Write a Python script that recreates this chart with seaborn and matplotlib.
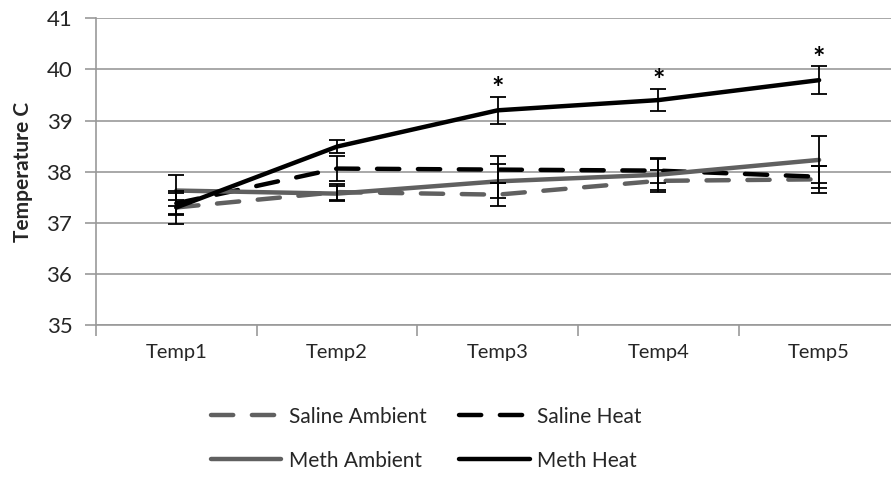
import matplotlib
matplotlib.use("Agg")
import matplotlib.pyplot as plt
from matplotlib.lines import Line2D
import seaborn as sns
import pandas as pd
import numpy as np

# Body temperature by time point and group
timepoints = ["Temp1", "Temp2", "Temp3", "Temp4", "Temp5"]
saline_ambient = [37.30, 37.60, 37.55, 37.82, 37.85]
saline_heat = [37.38, 38.06, 38.04, 38.02, 37.90]
meth_ambient = [37.63, 37.57, 37.81, 37.94, 38.23]
meth_heat = [37.30, 38.49, 39.20, 39.40, 39.79]

saline_ambient_err = [0.15, 0.16, 0.22, 0.22, 0.26]
saline_heat_err = [0.20, 0.25, 0.27, 0.24, 0.22]
meth_ambient_err = [0.30, 0.14, 0.33, 0.30, 0.46]
meth_heat_err = [0.33, 0.13, 0.27, 0.22, 0.27]

significant = [False, False, True, True, True]

sns.set_theme(style="white")
plt.rcParams["font.family"] = ["Lato", "DejaVu Sans"]

series = [
    ("Saline Ambient", saline_ambient, saline_ambient_err, "#606060", True),
    ("Saline Heat", saline_heat, saline_heat_err, "#000000", True),
    ("Meth Ambient", meth_ambient, meth_ambient_err, "#606060", False),
    ("Meth Heat", meth_heat, meth_heat_err, "#000000", False),
]

fig = plt.figure(figsize=(8.91, 4.79), dpi=100)
ax = fig.add_axes([0.1077, 0.3215, 0.9018, 0.6403])

x = np.arange(len(timepoints))
lw = 3.2
dash_pattern = (5.0, 4.2)

handles = {}
for name, vals, errs, color, dashed in series:
    df = pd.DataFrame({"pos": x, "temp": vals})
    sns.lineplot(data=df, x="pos", y="temp", ax=ax, color=color, linewidth=lw,
                 estimator=None, sort=False, legend=False, zorder=3)
    line = ax.lines[-1]
    line.set_solid_capstyle("round")
    if dashed:
        line.set_dashes(dash_pattern)
        line.set_dash_capstyle("round")
    ax.errorbar(x, vals, yerr=errs, fmt="none", ecolor="black", elinewidth=1.3,
                capsize=5.5, capthick=1.3, zorder=4)
    h = Line2D([0], [0], color=color, linewidth=lw, solid_capstyle="round",
               dash_capstyle="round")
    if dashed:
        h.set_dashes(dash_pattern)
    handles[name] = h

# Significance markers above Meth Heat
for xi, v, e, sig in zip(x, meth_heat, meth_heat_err, significant):
    if sig:
        ax.annotate("*", (xi, v + e), xytext=(0, -4), textcoords="offset points",
                    ha="center", va="bottom", fontsize=21, fontweight="bold",
                    color="black", zorder=5)

ax.set_xlim(-0.5, len(timepoints) - 0.5)
ax.set_ylim(35, 41)
ax.set_yticks(range(35, 42))
ax.set_xticks(x)
ax.set_xticklabels(timepoints)
ax.set_xticks(np.arange(-0.5, len(timepoints)), minor=True)
ax.set_xlabel("")
ax.set_ylabel("Temperature C", fontsize=15, fontweight="bold", labelpad=10)

ax.grid(axis="y", color="#999999", linewidth=1.2, zorder=0)
ax.grid(axis="x", visible=False)
for side in ["top", "right"]:
    ax.spines[side].set_visible(False)
for side in ["left", "bottom"]:
    ax.spines[side].set_color("#999999")
    ax.spines[side].set_linewidth(1.2)

ax.tick_params(axis="y", which="major", length=8, width=1.2, color="#999999",
               direction="out", labelsize=16, pad=9, left=True)
ax.tick_params(axis="x", which="major", length=0, labelsize=14.5, pad=14)
ax.tick_params(axis="x", which="minor", length=8, width=1.2, color="#999999",
               direction="out", bottom=True)

# legend laid out row-wise: saline on the first row, meth on the second
order = ["Saline Ambient", "Meth Ambient", "Saline Heat", "Meth Heat"]
fig.legend([handles[n] for n in order], order, loc="upper center",
           bbox_to_anchor=(0.478, 0.19), ncol=2, frameon=False,
           fontsize=15, handlelength=3.4, handletextpad=0.35,
           columnspacing=1.55, labelspacing=1.15)

fig.savefig("out.png", dpi=100)
